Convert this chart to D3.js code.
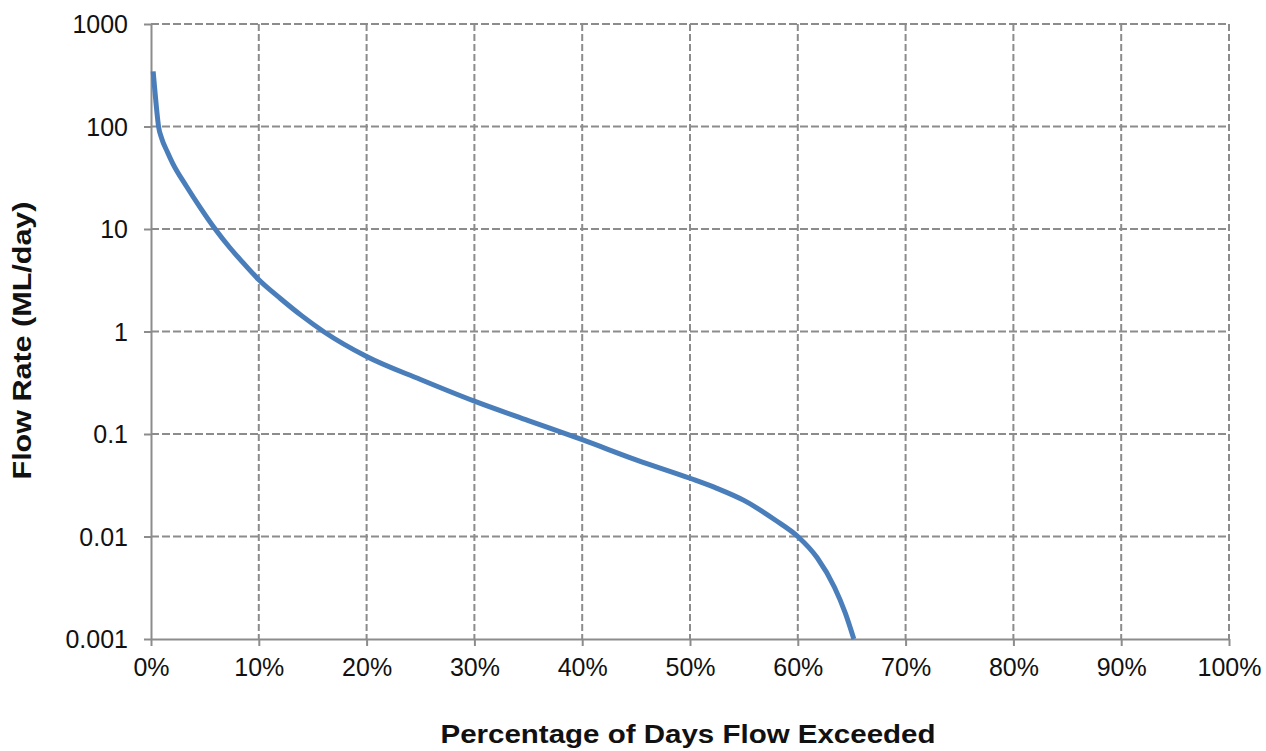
<!DOCTYPE html>
<html>
<head>
<meta charset="utf-8">
<script src="https://cdn.jsdelivr.net/npm/d3@7/dist/d3.min.js"></script>
<style>
  html, body { margin: 0; padding: 0; background: #fff; }
  svg { display: block; font-family: "Liberation Sans", Arial, sans-serif; }
</style>
</head>
<body>
<svg id="chart" width="1266" height="751"></svg>
<script>
// Flow duration curve: percentage of days exceeded vs flow rate (ML/day)
const exceedPct = [0.2, 0.35, 0.5, 0.7, 1.0, 1.5, 2.0, 3.3, 4.6, 5.95, 7.3, 8.3, 10, 12, 14, 16, 20, 25, 30, 35, 40, 45, 50, 52.5, 55, 57.9, 60, 61.8, 63.4, 64.4, 65.2];
const flowRate  = [345, 230, 155, 100, 76, 57, 44, 26, 16, 10, 6.6, 5.0, 3.2, 2.1, 1.42, 1.0, 0.57, 0.34, 0.209, 0.135, 0.088, 0.056, 0.037, 0.0295, 0.0225, 0.0145, 0.01, 0.0062, 0.0032, 0.0018, 0.001];

const yTicks = [0.001, 0.01, 0.1, 1, 10, 100, 1000];
const yTickLabels = ["0.001", "0.01", "0.1", "1", "10", "100", "1000"];
const xTicks = [0, 10, 20, 30, 40, 50, 60, 70, 80, 90, 100];
const xTickLabels = xTicks.map(d => d + "%");

const yTitle = "Flow Rate (ML/day)";
const xTitle = "Percentage of Days Flow Exceeded";

const W = 1266, H = 751;
const margin = { top: 24, right: 37, bottom: 112, left: 151 };
const iw = W - margin.left - margin.right;
const ih = H - margin.top - margin.bottom;

const svg = d3.select("#chart");
const g = svg.append("g").attr("transform", `translate(${margin.left},${margin.top})`);

const x = d3.scaleLinear().domain([0, 100]).range([0, iw]);
const y = d3.scaleLog().domain([0.001, 1000]).range([ih, 0]);

const gridColor = "#8c8c8c";

// dashed gridlines
g.append("g").selectAll("line").data(yTicks.filter(d => d > 0.001)).join("line")
  .attr("x1", 0).attr("x2", iw)
  .attr("y1", d => y(d)).attr("y2", d => y(d))
  .attr("stroke", gridColor).attr("stroke-width", 2)
  .attr("stroke-dasharray", "8,3");

g.append("g").selectAll("line").data(xTicks.filter(d => d > 0)).join("line")
  .attr("y1", 0).attr("y2", ih)
  .attr("x1", d => x(d)).attr("x2", d => x(d))
  .attr("stroke", gridColor).attr("stroke-width", 2)
  .attr("stroke-dasharray", "7,3");

// axes
const xAxis = d3.axisBottom(x).tickValues(xTicks).tickFormat((d, i) => xTickLabels[i])
  .tickSize(7).tickSizeOuter(0).tickPadding(7);
const yAxis = d3.axisLeft(y).tickValues(yTicks).tickFormat((d, i) => yTickLabels[i])
  .tickSize(7).tickSizeOuter(0).tickPadding(16);

const gx = g.append("g").attr("transform", `translate(0,${ih})`).call(xAxis);
const gy = g.append("g").call(yAxis);

[gx, gy].forEach(a => {
  a.select(".domain").attr("stroke", gridColor).attr("stroke-width", 2);
  a.selectAll(".tick line").attr("stroke", gridColor).attr("stroke-width", 2);
  a.selectAll(".tick text")
    .attr("fill", "#111")
    .style("font-family", "'Liberation Sans', Arial, sans-serif")
    .style("font-size", "25px");
});
gx.selectAll(".tick text").attr("dy", "0.9em");
gy.selectAll(".tick text").attr("dy", "0.34em");

// flow curve
const pts = exceedPct.map((p, i) => [p, flowRate[i]]);
const line = d3.line()
  .x(d => x(d[0]))
  .y(d => y(d[1]))
  .curve(d3.curveMonotoneX);

g.append("path")
  .datum(pts)
  .attr("d", line)
  .attr("fill", "none")
  .attr("stroke", "#4a7ebb")
  .attr("stroke-width", 5)
  .attr("stroke-linejoin", "round");

// axis titles
svg.append("text")
  .attr("transform", `translate(31,340.5) rotate(-90)`)
  .attr("text-anchor", "middle")
  .attr("font-weight", "bold")
  .attr("font-size", 26)
  .attr("textLength", 278)
  .attr("lengthAdjust", "spacingAndGlyphs")
  .attr("fill", "#111")
  .text(yTitle);

svg.append("text")
  .attr("x", 688)
  .attr("y", 743)
  .attr("text-anchor", "middle")
  .attr("font-weight", "bold")
  .attr("font-size", 26)
  .attr("textLength", 495)
  .attr("lengthAdjust", "spacingAndGlyphs")
  .attr("fill", "#111")
  .text(xTitle);
</script>
</body>
</html>
